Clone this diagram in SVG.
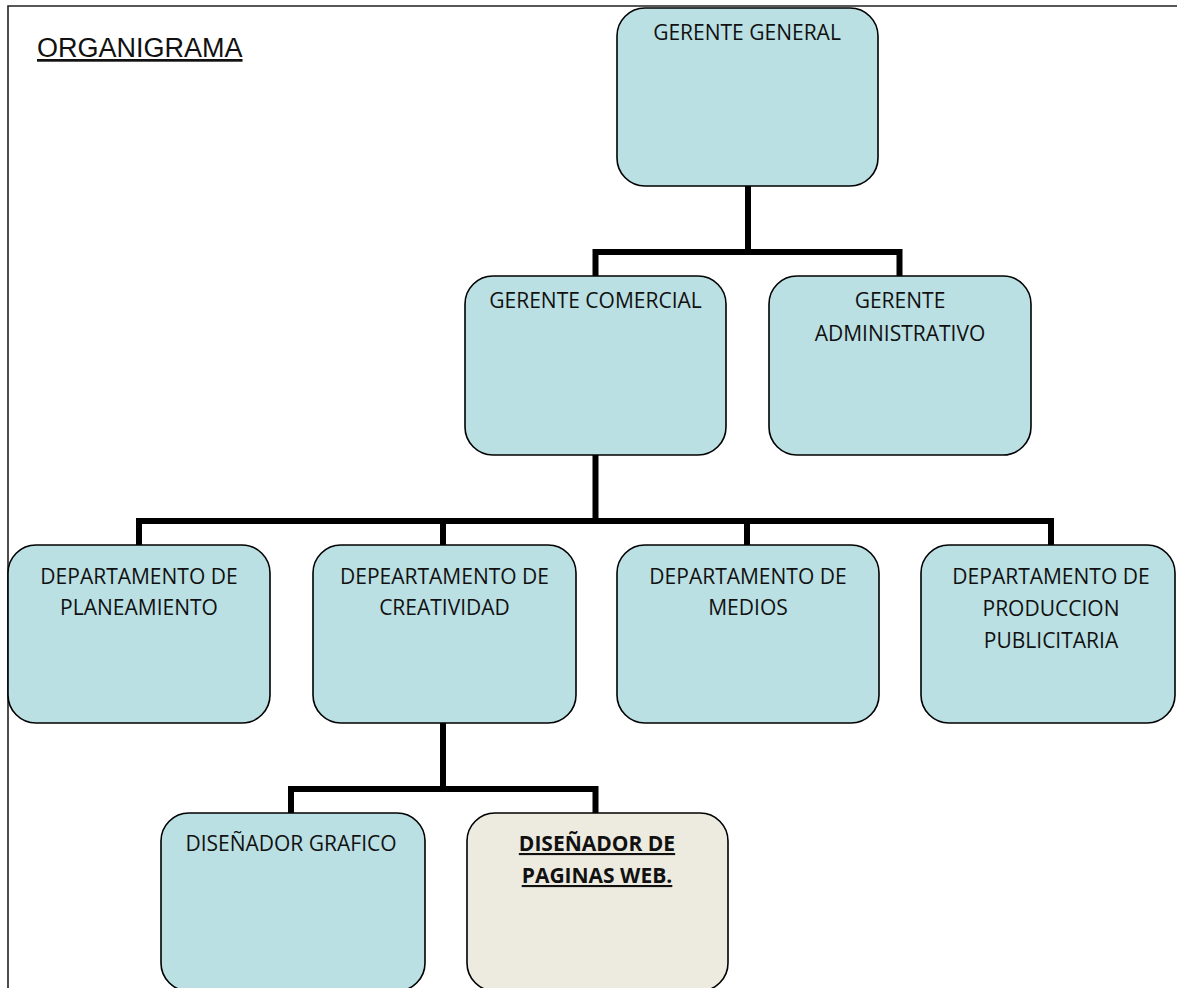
<svg xmlns="http://www.w3.org/2000/svg" width="1177" height="988" viewBox="0 0 1177 988">
<style>
.box{fill:#bae0e3;stroke:#000;stroke-width:1.6}
.box2{fill:#edeadf;stroke:#000;stroke-width:1.6}
.lbl{font-family:"Open Sans","Liberation Sans",sans-serif;font-size:21px;fill:#111;text-anchor:middle}
.bold{font-weight:bold;text-decoration:underline}
.conn{fill:none;stroke:#000;stroke-width:6;stroke-linejoin:miter;stroke-linecap:butt}
.frame{stroke:#222;stroke-width:1.6;fill:none}
</style>
<rect width="1177" height="988" fill="#fff"/>
<g id="frame">
<path class="frame" d="M8 988 V6 H1177"/>
</g>
<g id="title">
<text x="37" y="57" font-family="Liberation Sans, Arial, sans-serif" font-size="27" fill="#111" text-decoration="underline">ORGANIGRAMA</text>
</g>
<g id="connectors">
<path class="conn" d="M748 186 V252"/>
<path class="conn" d="M595.5 276 V252 H899.5 V276"/>
<path class="conn" d="M595.5 455 V521"/>
<path class="conn" d="M139 545 V521 H1051 V545"/>
<path class="conn" d="M443 521 V545"/>
<path class="conn" d="M747 521 V545"/>
<path class="conn" d="M443 723 V789"/>
<path class="conn" d="M291 813 V789 H595.5 V813"/>
</g>
<g id="gerente-general">
<rect class="box" x="617" y="8" width="261" height="178" rx="28"/>
<text class="lbl" x="747" y="40">GERENTE GENERAL</text>
</g>
<g id="gerente-comercial">
<rect class="box" x="465" y="276" width="261" height="179" rx="28"/>
<text class="lbl" x="595.5" y="308">GERENTE COMERCIAL</text>
</g>
<g id="gerente-administrativo">
<rect class="box" x="769" y="276" width="262" height="179" rx="28"/>
<text class="lbl" x="900" y="308">GERENTE</text>
<text class="lbl" x="900" y="341">ADMINISTRATIVO</text>
</g>
<g id="dep-planeamiento">
<rect class="box" x="8" y="545" width="262" height="178" rx="28"/>
<text class="lbl" x="139" y="584">DEPARTAMENTO DE</text>
<text class="lbl" x="139" y="615">PLANEAMIENTO</text>
</g>
<g id="dep-creatividad">
<rect class="box" x="313" y="545" width="263" height="178" rx="28"/>
<text class="lbl" x="444.5" y="584">DEPEARTAMENTO DE</text>
<text class="lbl" x="444.5" y="615">CREATIVIDAD</text>
</g>
<g id="dep-medios">
<rect class="box" x="617" y="545" width="262" height="178" rx="28"/>
<text class="lbl" x="748" y="584">DEPARTAMENTO DE</text>
<text class="lbl" x="748" y="615">MEDIOS</text>
</g>
<g id="dep-produccion">
<rect class="box" x="921" y="545" width="254" height="178" rx="28"/>
<text class="lbl" x="1051" y="584">DEPARTAMENTO DE</text>
<text class="lbl" x="1051" y="616">PRODUCCION</text>
<text class="lbl" x="1051" y="648">PUBLICITARIA</text>
</g>
<g id="disenador-grafico">
<rect class="box" x="161" y="813" width="264" height="178" rx="28"/>
<text class="lbl" x="291" y="851">DISEÑADOR GRAFICO</text>
</g>
<g id="disenador-web">
<rect class="box2" x="467" y="813" width="261" height="178" rx="28"/>
<text class="lbl bold" x="597" y="851">DISEÑADOR DE</text>
<text class="lbl bold" x="597" y="883">PAGINAS WEB.</text>
</g>
</svg>
